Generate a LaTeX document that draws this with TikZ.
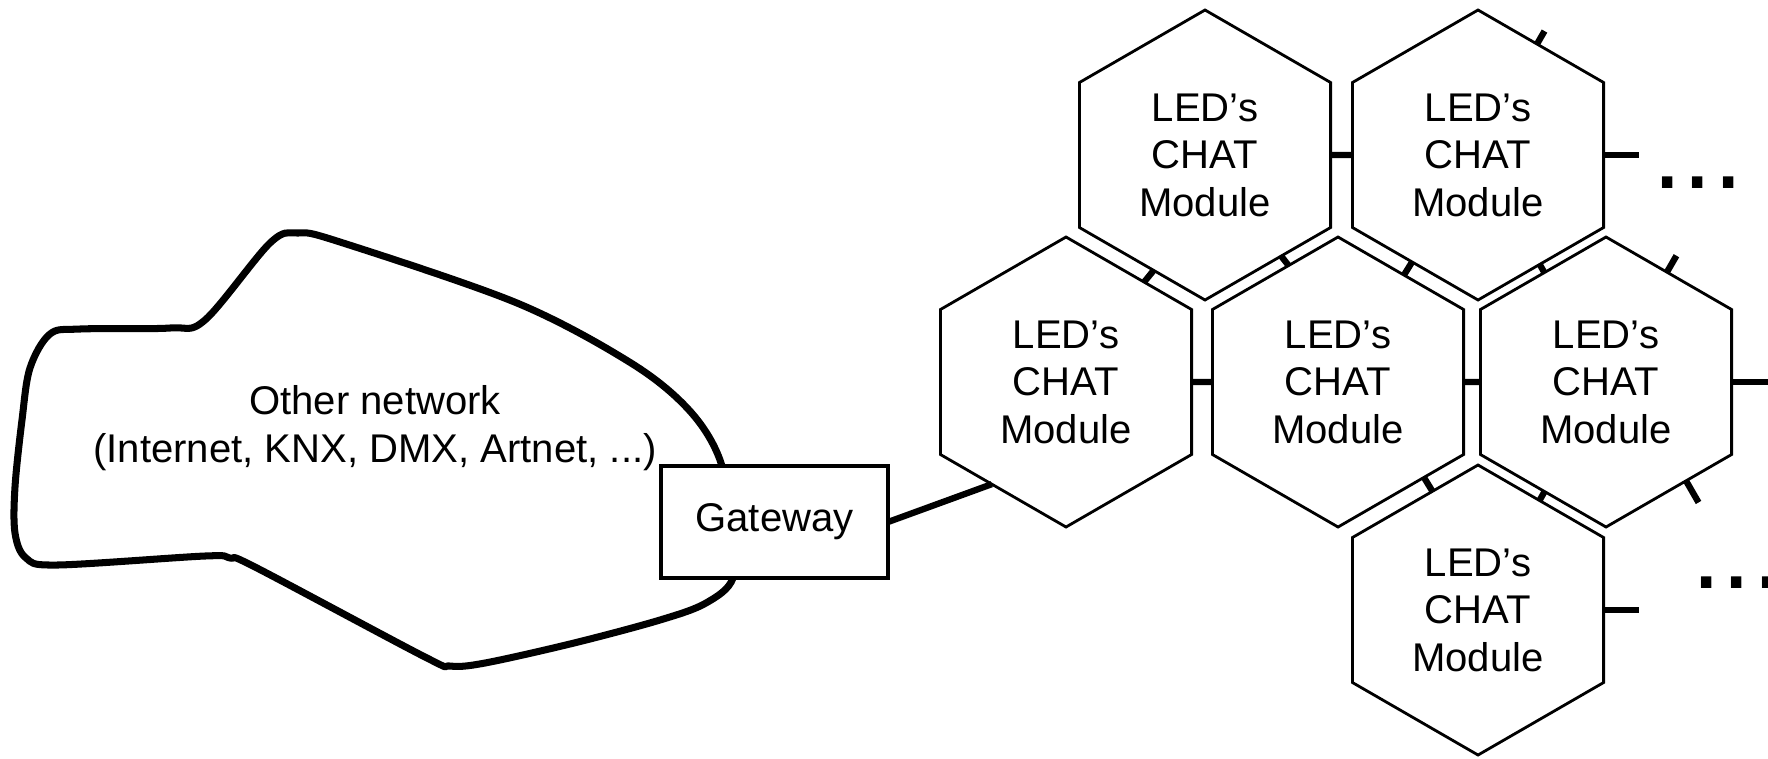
\documentclass[tikz,border=0pt]{standalone}
\usepackage{fontspec}
\setmainfont{Liberation Sans}
\usetikzlibrary{shapes.geometric,positioning,calc}

\begin{document}
\begin{tikzpicture}[
    module/.style={draw, line width=0.8pt, regular polygon, regular polygon sides=6,
        shape border rotate=30, minimum size=2.9cm, inner sep=0pt, outer sep=0pt,
        align=center, font=\fontsize{11.4}{13.5}\selectfont},
    link/.style={line width=1.8pt},
    gate/.style={draw, line width=0.9pt, fill=white, minimum width=2.27cm,
        minimum height=1.12cm, inner sep=0pt, outer sep=0pt,
        font=\fontsize{11.4}{13.5}\selectfont},
    more/.style={inner sep=0pt, anchor=base, font=\fontsize{31}{31}\selectfont}
]
    \useasboundingbox (0,0) rectangle (17.68,7.58);

    % Other network
    \draw[line width=2pt, line join=round] plot[smooth cycle, tension=0.55] coordinates {
        (0.80,4.29) (1.70,4.30) (2.05,4.38) (2.70,5.15) (2.98,5.25) (3.40,5.16)
        (5.17,4.55) (6.31,3.95) (6.89,3.48) (7.20,2.98) (7.32,2.30) (7.33,1.80)
        (7.06,1.55) (6.60,1.38) (5.74,1.15) (4.85,0.95) (4.50,0.92) (4.25,1.01)
        (2.55,1.91) (2.30,2.00) (2.05,2.02) (0.57,1.93) (0.26,2.00) (0.15,2.25)
        (0.15,2.71) (0.22,3.38) (0.30,3.90) (0.50,4.24)};
    \node[align=center, inner sep=0pt, font=\fontsize{11.4}{13.5}\selectfont] (net) at (3.75,3.30)
        {Other network\\(Internet, KNX, DMX, Artnet, ...)};

    % Gateway
    \node[gate] (gw) at (7.745,2.36) {Gateway};

    % CHAT modules
    \node[module] (mod11) at (12.05,6.03) {LED’s\\CHAT\\Module};
    \node[module] (mod12) at (14.78,6.03) {LED’s\\CHAT\\Module};
    \node[module] (mod21) at (10.66,3.76) {LED’s\\CHAT\\Module};
    \node[module] (mod22) at (13.38,3.76) {LED’s\\CHAT\\Module};
    \node[module] (mod23) at (16.06,3.76) {LED’s\\CHAT\\Module};
    \node[module] (mod31) at (14.78,1.48) {LED’s\\CHAT\\Module};

    % Free ends
    \coordinate (out12) at ([xshift=0.35cm]mod12.east);
    \coordinate (out23) at ([xshift=0.5cm]mod23.east);
    \coordinate (out31) at ([xshift=0.35cm]mod31.east);
    \coordinate (tick12) at ($(mod12.62)+(60:0.15)$);
    \coordinate (tick23a) at ($(mod23.61)+(60:0.19)$);
    \coordinate (tick23b) at ($(mod23.-51)+(-60:0.25)$);

    % Links
    \draw[link] (gw.east) -- (mod21.234);
    \draw[link] (mod11) -- (mod12);
    \draw[link] (mod21) -- (mod22);
    \draw[link] (mod22) -- (mod23);
    \draw[link] (mod11.-114) -- (mod21.52);
    \draw[link] (mod11.-53) -- (mod22.113);
    \draw[link] (mod12) -- (mod22);
    \draw[link] (mod12) -- (mod23);
    \draw[link] (mod22.-48) -- (mod31.111);
    \draw[link] (mod23) -- (mod31);
    \draw[link] (mod12.east) -- (out12);
    \draw[link] (mod23.east) -- (out23);
    \draw[link] (mod31.east) -- (out31);
    \draw[link] (mod12.62) -- (tick12);
    \draw[link] (mod23.61) -- (tick23a);
    \draw[link] (mod23.-51) -- (tick23b);

    % More modules
    \node[more] (dots1) at (16.98,5.70) {...};
    \node[more] (dots2) at (17.37,1.70) {...};
\end{tikzpicture}
\end{document}
